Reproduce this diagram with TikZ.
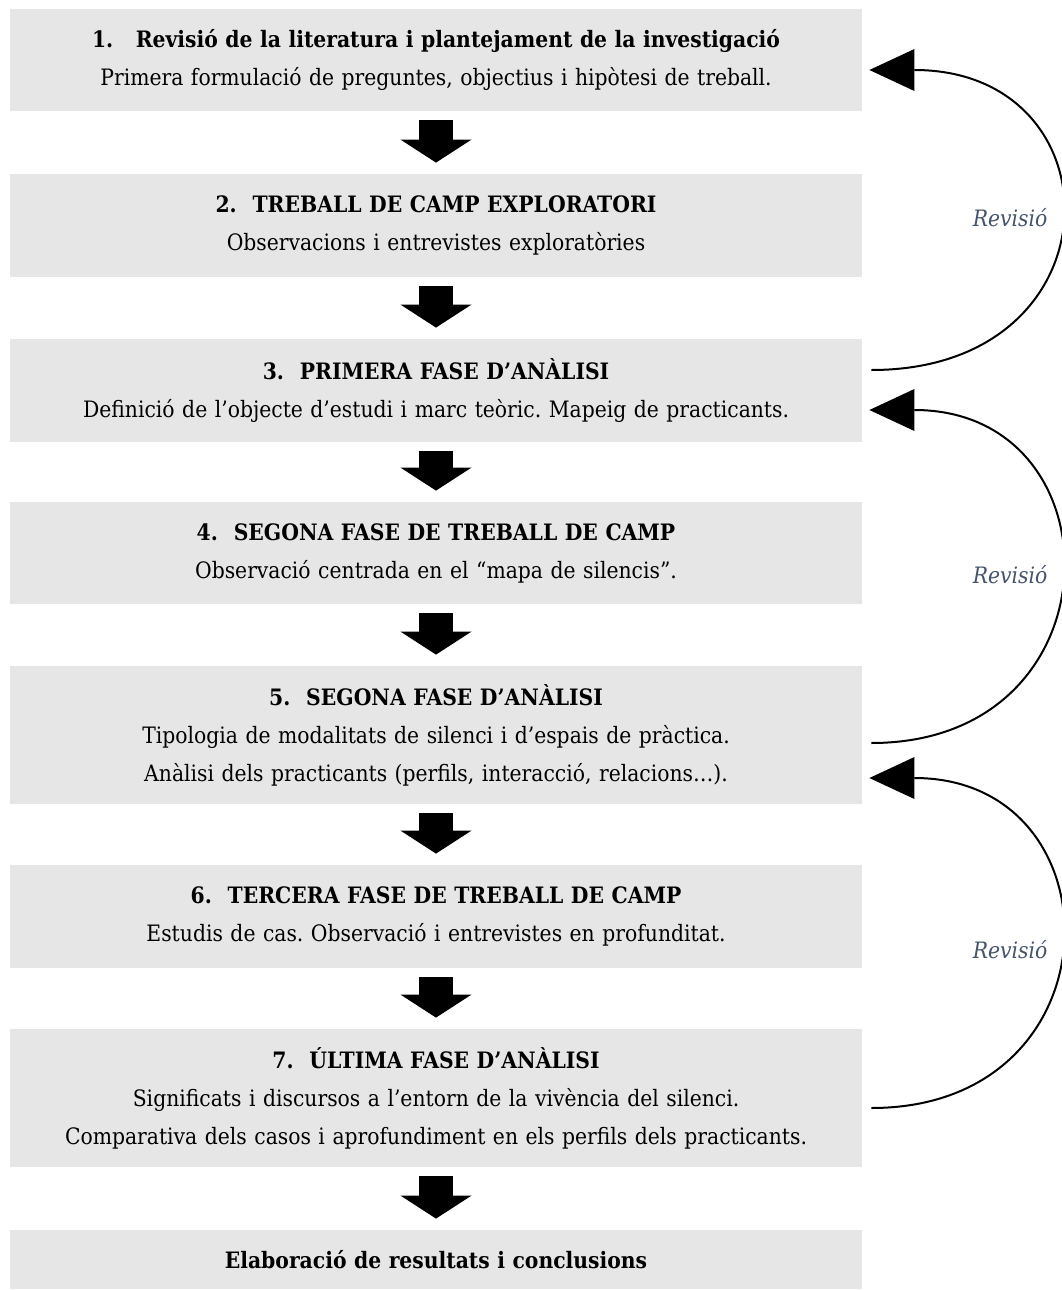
\documentclass[tikz,border=0pt]{standalone}
\usepackage{fontspec}
\setmainfont{DejaVu Serif Condensed}
\usepackage{tikz}
\usetikzlibrary{arrows.meta,calc}
\definecolor{gris}{HTML}{E7E6E6}
\definecolor{pizarra}{HTML}{44546A}
\frenchspacing

\begin{document}
\begin{tikzpicture}[x=0.5pt, y=-0.5pt,
  font=\fontsize{11.3}{19}\selectfont,
  fase/.style={fill=gris, align=center, minimum width=426pt, text width=416pt, inner sep=0pt},
  bajar/.style={line width=17pt, -{Triangle[length=11.5pt, width=35.5pt, line width=0pt]},
    shorten <=4.5pt, shorten >=5.5pt},
  revisio/.style={line width=1pt, -{Triangle[length=22.5pt, width=21pt, line width=0pt]}},
  etiq/.style={font=\fontsize{11.3}{19}\selectfont\itshape, text=pizarra}]
  \useasboundingbox (0,0) rectangle (1061,1290);
  \node[fase, minimum height=51pt] (b1) at (436,60)
    {\textbf{1.\quad Revisió de la literatura i plantejament de la investigació}\\
     Primera formulació de preguntes, objectius i hipòtesi de treball.};
  \node[fase, minimum height=51.5pt] (b2) at (436,225.5)
    {\textbf{2.\hspace{0.7em}TREBALL DE CAMP EXPLORATORI}\\
     Observacions i entrevistes exploratòries};
  \node[fase, minimum height=51.5pt] (b3) at (436,390.5)
    {\textbf{3.\hspace{0.7em}PRIMERA FASE D’ANÀLISI}\\
     Definició de l’objecte d’estudi i marc teòric. Mapeig de practicants.};
  \node[fase, minimum height=51pt] (b4) at (436,553)
    {\textbf{4.\hspace{0.7em}SEGONA FASE DE TREBALL DE CAMP}\\
     Observació centrada en el “mapa de silencis”.};
  \node[fase, minimum height=69pt] (b5) at (436,735)
    {\textbf{5.\hspace{0.7em}SEGONA FASE D’ANÀLISI}\\
     Tipologia de modalitats de silenci i d’espais de pràctica.\\
     Anàlisi dels practicants (perfils, interacció, relacions…).};
  \node[fase, minimum height=51.5pt] (b6) at (436,916.5)
    {\textbf{6.\hspace{0.7em}TERCERA FASE DE TREBALL DE CAMP}\\
     Estudis de cas. Observació i entrevistes en profunditat.};
  \node[fase, minimum height=69pt] (b7) at (436,1098)
    {\textbf{7.\hspace{0.7em}ÚLTIMA FASE D’ANÀLISI}\\
     Significats i discursos a l’entorn de la vivència del silenci.\\
     Comparativa dels casos i aprofundiment en els perfils dels practicants.};
  \node[fase, minimum height=29.5pt] (b8) at (436,1259.5)
    {\textbf{Elaboració de resultats i conclusions}};
  % fletxes entre fases
  \draw[bajar] (b1) -- (b2);
  \draw[bajar] (b2) -- (b3);
  \draw[bajar] (b3) -- (b4);
  \draw[bajar] (b4) -- (b5);
  \draw[bajar] (b5) -- (b6);
  \draw[bajar] (b6) -- (b7);
  \draw[bajar] (b7) -- (b8);
  % bucles de revisio
  \coordinate (r1a) at ($(b3.east)+(9,-20.5)$);
  \coordinate (r1b) at ($(b1.east)+(7,10)$);
  \coordinate (r2a) at ($(b5.east)+(9,8)$);
  \coordinate (r2b) at ($(b3.east)+(7,19.5)$);
  \coordinate (r3a) at ($(b7.east)+(9,10)$);
  \coordinate (r3b) at ($(b5.east)+(7,43)$);
  \draw[revisio] (r1a) .. controls +(250,0) and +(252,0) .. (r1b);
  \draw[revisio] (r2a) .. controls +(250,0) and +(252,0) .. (r2b);
  \draw[revisio] (r3a) .. controls +(250,0) and +(252,0) .. (r3b);
  \node[etiq] (rev1) at (1010,218) {Revisió};
  \node[etiq] (rev2) at (1010,575) {Revisió};
  \node[etiq] (rev3) at (1010,950) {Revisió};
\end{tikzpicture}
\end{document}
